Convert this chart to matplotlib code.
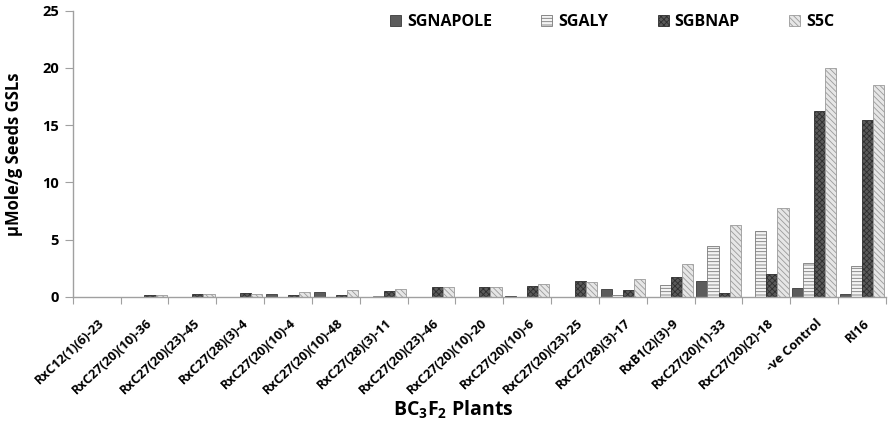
import matplotlib
matplotlib.use("Agg")
import matplotlib.pyplot as plt
import matplotlib.transforms as mtransforms
import numpy as np
from matplotlib.patches import Patch

plt.rcParams['font.family'] = ['Open Sans', 'DejaVu Sans']
plt.rcParams['font.weight'] = 'bold'
plt.rcParams['mathtext.default'] = 'regular'
plt.rcParams['hatch.linewidth'] = 0.6

categories = ["RxC12(1)(6)-23", "RxC27(20)(10)-36", "RxC27(20)(23)-45", "RxC27(28)(3)-4",
              "RxC27(20)(10)-4", "RxC27(20)(10)-48", "RxC27(28)(3)-11", "RxC27(20)(23)-46",
              "RxC27(20)(10)-20", "RxC27(20)(10)-6", "RxC27(20)(23)-25", "RxC27(28)(3)-17",
              "RxB1(2)(3)-9", "RxC27(20)(1)-33", "RxC27(20)(2)-18", "-ve Control", "RI16"]

sgnapole = [0, 0, 0, 0, 0.25, 0.42, 0, 0, 0, 0.1, 0, 0.73, 0, 1.38, 0, 0.78, 0.28]
sgaly    = [0, 0, 0, 0, 0, 0, 0.05, 0, 0, 0, 0, 0.2, 1.08, 4.47, 5.76, 3.0, 2.72]
sgbnap   = [0, 0.2, 0.3, 0.35, 0.15, 0.15, 0.5, 0.84, 0.84, 0.95, 1.38, 0.64, 1.76, 0.35, 2.02, 16.2, 15.42]
s5c      = [0, 0.15, 0.28, 0.3, 0.42, 0.65, 0.7, 0.84, 0.84, 1.1, 1.32, 1.6, 2.84, 6.29, 7.75, 20.0, 18.5]

series_names = ["SGNAPOLE", "SGALY", "SGBNAP", "S5C"]
series_vals = [sgnapole, sgaly, sgbnap, s5c]
styles = [
    dict(facecolor='#5c5c5c', edgecolor='#3a3a3a', hatch=None),
    dict(facecolor='#f4f4f4', edgecolor='#7a7a7a', hatch='-----'),
    dict(facecolor='#5a5a5a', edgecolor='#2e2e2e', hatch='xxxxxx'),
    dict(facecolor='#e6e6e6', edgecolor='#9a9a9a', hatch='\\\\\\\\\\\\'),
]

fig = plt.figure(figsize=(8.92, 4.33), dpi=100)
ax = fig.add_axes([72.7/892, 1-297/433, (886-72.7)/892, (297-10.7)/433])

x = np.arange(len(categories))
w = 0.232
for j, (vals, st) in enumerate(zip(series_vals, styles)):
    ax.bar(x + (j-1.5)*w, vals, width=w, facecolor=st['facecolor'],
           edgecolor=st['edgecolor'], hatch=st['hatch'], linewidth=0.6, zorder=2)

ax.set_xlim(-0.5, len(categories)-0.5)
ax.set_ylim(0, 25)
ax.set_yticks([0, 5, 10, 15, 20, 25])
ax.tick_params(axis='y', direction='out', length=6, color='#a0a0a0', labelsize=10.5, pad=4)
ax.set_xticks(np.arange(len(categories)+1)-0.5, minor=False)
ax.set_xticklabels([])
ax.set_xticks(x, minor=True)
ax.set_xticklabels(categories, minor=True, rotation=43, ha='right', rotation_mode='anchor',
                   fontsize=9.3, fontweight='bold')
ax.tick_params(axis='x', which='major', direction='out', length=5, color='#a0a0a0')
ax.tick_params(axis='x', which='minor', length=0, pad=14)
offset = mtransforms.ScaledTranslation(1/72, 0, fig.dpi_scale_trans)
for lab in ax.get_xticklabels(minor=True):
    lab.set_transform(lab.get_transform() + offset)

for s in ['top', 'right']:
    ax.spines[s].set_visible(False)
for s in ['left', 'bottom']:
    ax.spines[s].set_color('#a0a0a0')
    ax.spines[s].set_linewidth(1.0)

ax.set_ylabel("\u00b5Mole/g Seeds GSLs", fontsize=12, fontweight='bold')
ax.yaxis.set_label_coords(-(72.7-23)/813.3, 0.5)
fig.text(453/892, 1-410/433, "BC$_3$F$_2$ Plants", fontsize=14, fontweight='bold',
         ha='center', va='center')

handles = [Patch(facecolor=st['facecolor'], edgecolor=st['edgecolor'], hatch=st['hatch'],
                 linewidth=0.6) for st in styles]
fig.legend(handles, series_names, loc='center', bbox_to_anchor=(612/892, 1-22/433), ncol=4,
           frameon=False, handlelength=0.7, handleheight=0.7, handletextpad=0.35,
           columnspacing=3.1, prop={'weight': 'bold', 'size': 11.5})

fig.savefig("out.png", dpi=100)
